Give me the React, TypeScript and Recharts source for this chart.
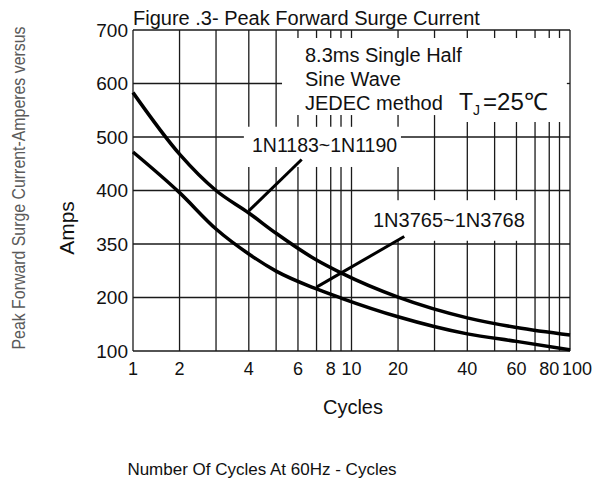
import { LineChart, Line, XAxis, YAxis, ReferenceLine } from 'recharts';

// values (cycles -> peak amps)
const cycles = [1, 2, 3, 4, 5, 7, 9, 20, 40, 60, 100];
const amps1N1183 = [583, 468, 400, 379, 360, 305, 269, 201, 162, 144, 130];
const amps1N3765 = [472, 398, 364, 322, 274, 224, 199, 164, 132, 118, 102];

// y labels are printed evenly spaced even though the values are not
const ampTicks = [100, 200, 350, 400, 500, 600, 700];
const gridCycles = [1, 2, 3, 4, 5, 6, 7, 8, 9, 10, 20, 30, 40, 50, 60, 70, 80, 90, 100];
const labeledCycles = [1, 2, 4, 6, 8, 10, 20, 40, 60, 80, 100];
// the printed "log" grid is not a true log: where 1..10 sit inside one decade
const decadeFrac = [0, 0.213, 0.38, 0.53, 0.655, 0.755, 0.84, 0.905, 0.952, 1];

// blank patches of the grid behind the printed notes (cycles / amps)
const notePatches = [
  { c1: 5.27, c2: 35, a1: 541, a2: 685 },
  { c1: 35, c2: 97, a1: 528, a2: 685 },
  { c1: 3.85, c2: 20.8, a1: 444, a2: 519 },
  { c1: 14.6, c2: 66.8, a1: 353, a2: 391 },
];

const FONT = '"Liberation Sans", Arial, sans-serif';
const GRID = { stroke: '#1a1a1a', strokeWidth: 1.3 };

const xPos = (c: number) => {
  const d = Math.floor(Math.log10(c) + 1e-9);
  const m = c / Math.pow(10, d);
  const i = Math.min(Math.floor(m + 1e-9), 9);
  return d + decadeFrac[i - 1] + (m - i) * (decadeFrac[i] - decadeFrac[i - 1]);
};

const yPos = (a: number) => {
  for (let k = 0; k < ampTicks.length - 1; k++) {
    if (a <= ampTicks[k + 1]) return k + (a - ampTicks[k]) / (ampTicks[k + 1] - ampTicks[k]);
  }
  return ampTicks.length - 1;
};

// cut [lo, hi] by the given gaps
const split = (lo: number, hi: number, gaps: number[][]) => {
  const out: number[][] = [];
  let start = lo;
  [...gaps].sort((p, q) => p[0] - q[0]).forEach(([g0, g1]) => {
    if (g0 > start) out.push([start, g0]);
    start = Math.max(start, g1);
  });
  if (start < hi) out.push([start, hi]);
  return out;
};

const data = cycles.map((c, i) => ({
  x: xPos(c),
  a: yPos(amps1N1183[i]),
  b: yPos(amps1N3765[i]),
}));

const vGrid = gridCycles.flatMap(c => {
  const gaps = notePatches.filter(p => c > p.c1 && c < p.c2).map(p => [yPos(p.a1), yPos(p.a2)]);
  return split(0, ampTicks.length - 1, gaps).map(([y0, y1]) => [{ x: xPos(c), y: y0 }, { x: xPos(c), y: y1 }]);
});

const hGrid = ampTicks.flatMap((a, i) => {
  const gaps = notePatches.filter(p => a > p.a1 && a < p.a2).map(p => [xPos(p.c1), xPos(p.c2)]);
  return split(0, 2, gaps).map(([x0, x1]) => [{ x: x0, y: i }, { x: x1, y: i }]);
});

const CycleTick = (props: any) => {
  const { x, y, payload } = props;
  const c = labeledCycles.find(v => Math.abs(xPos(v) - payload.value) < 1e-6);
  if (c === undefined) return <g />;
  return (
    <text x={x + (c === 100 ? 7 : 0)} y={y} dy="0.71em" textAnchor="middle" fill="#111" fontSize={18} fontFamily={FONT}>
      {c}
    </text>
  );
};

export default function App() {
  const txt = { fill: '#111', fontFamily: FONT };
  return (
    <div style={{ position: 'absolute', left: 0, top: 0, width: 596, height: 489, background: '#fff' }}>
      <LineChart width={596} height={489} data={data} margin={{ top: 30, right: 26, bottom: 108, left: 0 }} style={{ fontFamily: FONT }}>
        <XAxis
          dataKey="x"
          type="number"
          domain={[0, 2]}
          ticks={gridCycles.map(xPos)}
          height={30}
          tickLine={false}
          tickSize={6}
          tickMargin={5}
          axisLine={false}
          tick={<CycleTick />}
          interval={0}
        />
        <YAxis
          type="number"
          domain={[0, 6]}
          ticks={ampTicks.map((_, i) => i)}
          tickFormatter={(i: number) => String(ampTicks[i])}
          width={133}
          tickLine={false}
          tickSize={3}
          tickMargin={2}
          axisLine={false}
          tick={{ fill: '#111', fontSize: 19, fontFamily: FONT }}
          interval={0}
        />
        {vGrid.map((seg, i) => <ReferenceLine key={`v${i}`} segment={seg} {...GRID} />)}
        {hGrid.map((seg, i) => <ReferenceLine key={`h${i}`} segment={seg} {...GRID} />)}
        <ReferenceLine segment={[{ x: xPos(4), y: yPos(381) }, { x: xPos(6.2), y: yPos(458) }]} stroke="#000" strokeWidth={3} />
        <ReferenceLine segment={[{ x: xPos(7), y: yPos(229) }, { x: xPos(21.7), y: yPos(357) }]} stroke="#000" strokeWidth={3} />
        <Line type="monotone" dataKey="a" stroke="#000" strokeWidth={3.5} dot={false} isAnimationActive={false} />
        <Line type="monotone" dataKey="b" stroke="#000" strokeWidth={3.5} dot={false} isAnimationActive={false} />
      </LineChart>

      <svg width={596} height={489} style={{ position: 'absolute', left: 0, top: 0, pointerEvents: 'none' }}>
        <text x={133} y={25} fontSize={20} {...txt}>Figure .3- Peak Forward Surge Current</text>
        <text x={305} y={62} fontSize={20} {...txt}>8.3ms Single Half</text>
        <text x={305} y={86} fontSize={20} {...txt}>Sine Wave</text>
        <text x={305} y={110} fontSize={20} {...txt}>JEDEC method</text>
        <text x={459} y={110} fontSize={23} {...txt}>
          T<tspan fontSize={14} dy={5}>J</tspan><tspan dy={-5} dx={3} fontSize={24}>=25℃</tspan>
        </text>
        <text x={252} y={152} fontSize={19.5} {...txt}>1N1183~1N1190</text>
        <text x={373} y={227} fontSize={20} {...txt}>1N3765~1N3768</text>
        <text x={353} y={414} fontSize={20} textAnchor="middle" {...txt}>Cycles</text>
        <text x={262} y={475} fontSize={17} textAnchor="middle" {...txt}>Number Of Cycles At 60Hz - Cycles</text>
        <text x={74} y={228} fontSize={21} textAnchor="middle" transform="rotate(-90 74 228)" {...txt}>Amps</text>
        <text x={25} y={188} fontSize={18} fill="#5a5a5a" fontFamily={FONT} textAnchor="middle" textLength={323} lengthAdjust="spacingAndGlyphs" transform="rotate(-90 25 188)">
          Peak Forward Surge Current-Amperes versus
        </text>
      </svg>
    </div>
  );
}
